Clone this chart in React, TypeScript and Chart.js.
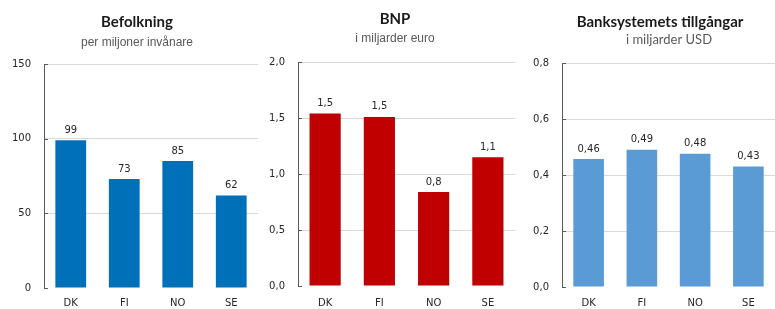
import React, { useEffect, useRef } from "react";
import { Chart, registerables } from "chart.js";
Chart.register(...registerables);

const categories = ["DK", "FI", "NO", "SE"];

const befolkningValues = [99, 73, 85, 62];
const befolkningLabels = ["99", "73", "85", "62"];
const befolkningTicks = ["0", "50", "100", "150"];

const bnpValues = [1.54, 1.51, 0.84, 1.15];
const bnpLabels = ["1,5", "1,5", "0,8", "1,1"];
const bnpTicks = ["0,0", "0,5", "1,0", "1,5", "2,0"];

const bankValues = [0.457, 0.49, 0.476, 0.43];
const bankLabels = ["0,46", "0,49", "0,48", "0,43"];
const bankTicks = ["0,0", "0,2", "0,4", "0,6", "0,8"];

const TICK_FONT = { family: "'DejaVu Sans', sans-serif", size: 10 };

type Spec = {
  title: string;
  subtitle: string;
  subtitleFont: string;
  values: number[];
  labels: string[];
  ticks: string[];
  max: number;
  step: number;
  color: string;
  left: number;
  width: number;
  padRight: number;
  padTop: number;
  yWidth: number;
  xHeight: number;
  xPad: number;
  titleX: number;
  titleY: number;
  subX: number;
  subY: number;
};

const specs: Spec[] = [
  {
    title: "Befolkning",
    subtitle: "per miljoner invånare",
    subtitleFont: "12px 'Liberation Sans', Arial, sans-serif",
    values: befolkningValues,
    labels: befolkningLabels,
    ticks: befolkningTicks,
    max: 150,
    step: 50,
    color: "#0070B8",
    left: 0,
    width: 262,
    padRight: 4,
    padTop: 64,
    yWidth: 44,
    xHeight: 21,
    xPad: 1,
    titleX: 137,
    titleY: 27,
    subX: 137,
    subY: 46,
  },
  {
    title: "BNP",
    subtitle: "i miljarder euro",
    subtitleFont: "12px 'Liberation Sans', Arial, sans-serif",
    values: bnpValues,
    labels: bnpLabels,
    ticks: bnpTicks,
    max: 2,
    step: 0.5,
    color: "#C00000",
    left: 262,
    width: 256,
    padRight: 3,
    padTop: 62,
    yWidth: 36,
    xHeight: 23,
    xPad: 3,
    titleX: 133,
    titleY: 24,
    subX: 133,
    subY: 42,
  },
  {
    title: "Banksystemets tillgångar",
    subtitle: "i miljarder USD",
    subtitleFont: "13px Lato, sans-serif",
    values: bankValues,
    labels: bankLabels,
    ticks: bankTicks,
    max: 0.8,
    step: 0.2,
    color: "#5B9BD5",
    left: 518,
    width: 257,
    padRight: 0,
    padTop: 63,
    yWidth: 44,
    xHeight: 22,
    xPad: 2,
    titleX: 142,
    titleY: 27,
    subX: 151,
    subY: 44,
  },
];

function makeChart(canvas: HTMLCanvasElement, s: Spec) {
  const decor = {
    id: "decor" + s.title,
    afterDatasetsDraw(chart: any) {
      const ctx = chart.ctx;
      const meta = chart.getDatasetMeta(0);
      ctx.save();
      ctx.font = "10px 'DejaVu Sans', sans-serif";
      ctx.fillStyle = "#262626";
      ctx.textAlign = "center";
      ctx.textBaseline = "bottom";
      meta.data.forEach((bar: any, i: number) => {
        ctx.fillText(s.labels[i], bar.x, bar.y - 5);
      });
      ctx.restore();
    },
    afterDraw(chart: any) {
      const ctx = chart.ctx;
      const y = chart.scales.y;
      const area = chart.chartArea;
      ctx.save();
      ctx.strokeStyle = "#595959";
      ctx.lineWidth = 1;
      y.ticks.forEach((t: any) => {
        const py = Math.round(y.getPixelForValue(t.value)) + 0.5;
        ctx.beginPath();
        ctx.moveTo(area.left, py);
        ctx.lineTo(area.left + 4, py);
        ctx.stroke();
      });
      ctx.textAlign = "center";
      ctx.textBaseline = "alphabetic";
      ctx.fillStyle = "#1a1a1a";
      ctx.font = "bold 15px Lato, sans-serif";
      ctx.fillText(s.title, s.titleX, s.titleY);
      ctx.fillStyle = "#595959";
      ctx.font = s.subtitleFont;
      ctx.fillText(s.subtitle, s.subX, s.subY);
      ctx.restore();
    },
  };

  return new Chart(canvas, {
    type: "bar",
    data: {
      labels: categories,
      datasets: [
        {
          data: s.values,
          backgroundColor: s.color,
          borderWidth: 0,
          categoryPercentage: 1,
          barPercentage: 0.575,
        },
      ],
    },
    options: {
      responsive: false,
      animation: false,
      devicePixelRatio: 1,
      layout: { padding: { left: 0, right: s.padRight, top: s.padTop, bottom: 0 } },
      plugins: {
        legend: { display: false },
        tooltip: { enabled: false },
        title: { display: false },
      },
      scales: {
        x: {
          grid: { display: false },
          border: { display: false },
          ticks: { font: TICK_FONT, color: "#262626", padding: s.xPad },
          afterFit: (scale: any) => {
            scale.height = s.xHeight;
          },
        },
        y: {
          min: 0,
          max: s.max,
          border: { display: true, color: "#595959", width: 1 },
          grid: {
            drawTicks: false,
            color: (c: any) => (c.tick && c.tick.value === 0 ? "rgba(0,0,0,0)" : "#D9D9D9"),
          },
          ticks: {
            stepSize: s.step,
            font: TICK_FONT,
            color: "#262626",
            padding: 13,
            callback: (_v: any, i: number) => s.ticks[i],
          },
          afterFit: (scale: any) => {
            scale.width = s.yWidth;
          },
        },
      },
    },
    plugins: [decor],
  } as any);
}

function Panel({ spec }: { spec: Spec }) {
  const ref = useRef<HTMLCanvasElement | null>(null);
  useEffect(() => {
    if (!ref.current) return;
    const c = makeChart(ref.current, spec);
    return () => c.destroy();
  }, [spec]);
  return (
    <canvas
      ref={ref}
      width={spec.width}
      height={309}
      style={{ position: "absolute", left: spec.left, top: 0, width: spec.width, height: 309 }}
    />
  );
}

export default function App() {
  return (
    <div style={{ position: "fixed", left: 0, top: 0, width: 775, height: 309, background: "#fff" }}>
      {specs.map((s) => (
        <Panel key={s.title} spec={s} />
      ))}
    </div>
  );
}
